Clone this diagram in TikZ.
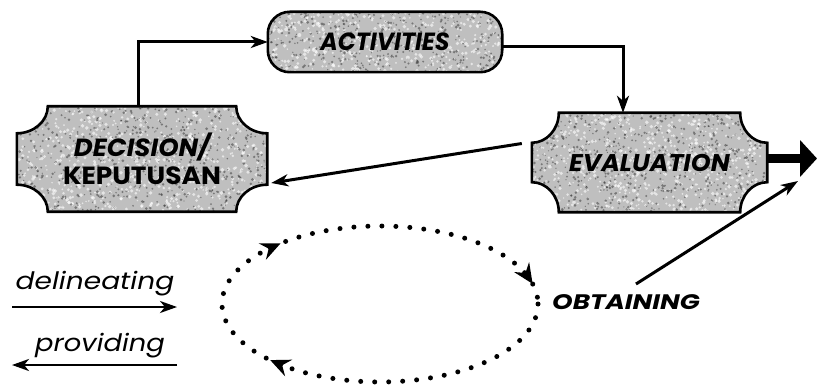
\documentclass[tikz,border=0pt]{standalone}
\usepackage{fontspec}
\setmainfont{Poppins}
\usetikzlibrary{arrows.meta,calc,backgrounds}
\pgfmathsetseed{7}
\tikzset{
  boxline/.style={draw=black, line width=2.6pt, fill=gray!50},
  conn/.style={line width=3pt, -{Stealth[length=17pt,width=12pt,inset=5pt]}},
  fatarrow/.style={line width=8.5pt, -{Triangle[length=17pt,width=36pt]}},
  lbl/.style={inner sep=0pt, font=\fontsize{23}{26}\selectfont\bfseries\itshape},
  leg/.style={inner sep=0pt, font=\fontsize{24}{26}\selectfont\itshape},
  dots/.style={line width=5pt, line cap=round, dash pattern=on 0pt off 14pt},
  tipdot/.style={line width=1.5pt, -{Stealth[length=20pt,width=18pt,inset=7pt]}},
  speckle/.style 2 args={path picture={
    \foreach \i in {1,...,700}{
      \fill[white, opacity=0.6] ($(#1.center)+({rand*#2},{rand*(#2*0.45)})$) circle ({0.8pt+1.2pt*rnd});
      \fill[black!80, opacity=0.5] ($(#1.center)+({rand*#2},{rand*(#2*0.45)})$) circle ({0.6pt+0.9pt*rnd});
    }}}
}
\newcommand{\notchpath}[3]{%
  ($(#1.north west)+(#2,0)$) -- ($(#1.north east)+(-#2,0)$)
  .. controls ($(#1.north east)+(-#2,0.55*#3)$) and ($(#1.north east)+(-0.55*#2,#3)$) .. ($(#1.north east)+(0,#3)$)
  -- ($(#1.south east)+(0,-#3)$)
  .. controls ($(#1.south east)+(-0.55*#2,-#3)$) and ($(#1.south east)+(-#2,-0.55*#3)$) .. ($(#1.south east)+(-#2,0)$)
  -- ($(#1.south west)+(#2,0)$)
  .. controls ($(#1.south west)+(#2,-0.55*#3)$) and ($(#1.south west)+(0.55*#2,-#3)$) .. ($(#1.south west)+(0,-#3)$)
  -- ($(#1.north west)+(0,#3)$)
  .. controls ($(#1.north west)+(0.55*#2,#3)$) and ($(#1.north west)+(#2,0.55*#3)$) .. cycle}
\begin{document}
\begin{tikzpicture}[x=1pt,y=-1pt]
\useasboundingbox (0,0) rectangle (817,385);
% nodes
\node[lbl, minimum width=234pt, minimum height=60pt] (act) at (385,42) {\scalebox{1.03}[1.08]{ACTIVITIES}};
\node[lbl, minimum width=250pt, minimum height=105pt, align=center] (dec) at (142,159)
  {\scalebox{1.13}[1.08]{DECISION/}\\[2pt]\upshape\scalebox{1.15}[1.08]{KEPUTUSAN}};
\node[lbl, minimum width=235pt, minimum height=99pt] (eva) at (649.5,162.5) {\scalebox{1.1}[1.05]{EVALUATION}};
\node[lbl, font=\fontsize{21}{24}\selectfont\bfseries\itshape] (obt) at (626,302) {\scalebox{1.25}[1]{OBTAINING}};
\node[leg] (del) at (95,284) {\scalebox{1.17}[1]{delineating}};
\node[leg] (pro) at (100,346) {\scalebox{1.14}[1]{providing}};
% shapes
\begin{scope}[on background layer]
  \draw[boxline, rounded corners=22pt, speckle={act}{117}] (act.north west) rectangle (act.south east);
  \draw[boxline, speckle={dec}{125}] \notchpath{dec}{31}{27};
  \draw[boxline, speckle={eva}{118}] \notchpath{eva}{27}{30};
\end{scope}
% connectors
\draw[conn] ($(dec.north)+(-4,0)$) |- (act.west);
\draw[conn] ($(act.east)+(0,5)$) -| ($(eva.north)+(-26.5,0)$);
\draw[conn] ($(eva.west)+(-10,-19)$) -- ($(dec.east)+(4,24)$);
\coordinate (out) at (817,158.5);
\draw[fatarrow] ($(eva.east)+(0,-4)$) -- (out);
\coordinate (ob1) at (636,284);
\coordinate (ob2) at (798,181);
\draw[conn] (ob1) -- (ob2);
% legend arrows
\coordinate (d1) at (12,307); \coordinate (d2) at (177,307);
\coordinate (p1) at (177,365); \coordinate (p2) at (12,365);
\draw[conn, line width=2.6pt] (d1) -- (d2);
\draw[conn, line width=2.6pt] (p1) -- (p2);
% dotted cycle
\coordinate (cyc) at (380,304);
\draw[dots] plot[domain=360:0, samples=200] ({380+158*cos(\x)},{304-78*sin(\x)});
\foreach \t in {226,129,15}{
  \draw[tipdot] ({380+158*cos(\t+6)},{304-78*sin(\t+6)}) -- ({380+158*cos(\t)},{304-78*sin(\t)});
}
\end{tikzpicture}
\end{document}
